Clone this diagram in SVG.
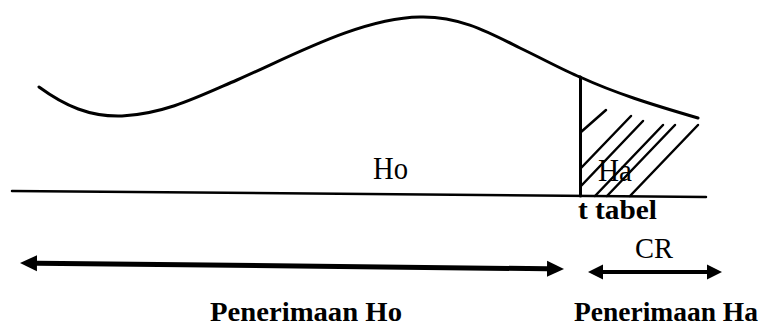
<svg xmlns="http://www.w3.org/2000/svg" width="766" height="334" viewBox="0 0 766 334">
  <style>
    .ln { fill: none; stroke: #000; stroke-linecap: round; }
    .txt { font-family: "Liberation Serif", "Times New Roman", serif; fill: #000; }
    .b { font-weight: bold; }
  </style>
  <defs>
    <marker id="ahBig" markerUnits="userSpaceOnUse" markerWidth="18" markerHeight="18" viewBox="0 -9 18 18" refX="0" refY="0" orient="auto-start-reverse">
      <path d="M0,-8 L17,0 L0,8 Z" fill="#000"/>
    </marker>
    <marker id="ahSmall" markerUnits="userSpaceOnUse" markerWidth="16" markerHeight="16" viewBox="0 -8 16 16" refX="0" refY="0" orient="auto-start-reverse">
      <path d="M0,-7.5 L15,0 L0,7.5 Z" fill="#000"/>
    </marker>
  </defs>
  <rect width="766" height="334" fill="#fff"/>

  <g id="curve">
    <path class="ln" stroke-width="3" d="M39,87 C65,106 90,117 122,116 C165,114 200,96 237,80 C290,57 360,18 420,17 C460,16 490,33 520,48 C545,60 565,71 580,77 C615,93 650,104 698,118"/>
  </g>

  <g id="axis">
    <path class="ln" stroke-width="2.5" d="M12,191 L706,197"/>
  </g>

  <g id="critical-region">
    <path class="ln" stroke-width="3" d="M580.5,77 L580.5,196"/>
    <g class="ln" stroke-width="2.5">
      <path d="M581,132 L606,110"/>
      <path d="M581,168 L631,116"/>
      <path d="M581,186 L643,121"/>
      <path d="M595,196 L663,125"/>
      <path d="M607,196 L675,125"/>
      <path d="M630,196 L698,125"/>
    </g>
  </g>

  <g id="labels">
    <text class="txt" x="373" y="179" font-size="31" textLength="35" lengthAdjust="spacingAndGlyphs">Ho</text>
    <text class="txt" x="598" y="181" font-size="31" textLength="34" lengthAdjust="spacingAndGlyphs">Ha</text>
    <text class="txt b" x="578" y="219" font-size="28" textLength="79" lengthAdjust="spacingAndGlyphs">t tabel</text>
    <text class="txt" x="635" y="258" font-size="30" textLength="38" lengthAdjust="spacingAndGlyphs">CR</text>
    <text class="txt b" x="210" y="321" font-size="28" textLength="192" lengthAdjust="spacingAndGlyphs">Penerimaan Ho</text>
    <text class="txt b" x="574" y="321" font-size="28" textLength="184" lengthAdjust="spacingAndGlyphs">Penerimaan Ha</text>
  </g>

  <g id="connectors">
    <path class="ln" stroke-width="5" stroke-linecap="butt" d="M37,263.2 L547,268.8" marker-start="url(#ahBig)" marker-end="url(#ahBig)"/>
    <path class="ln" stroke-width="4" stroke-linecap="butt" d="M603,272 L707,272" marker-start="url(#ahSmall)" marker-end="url(#ahSmall)"/>
  </g>
</svg>
